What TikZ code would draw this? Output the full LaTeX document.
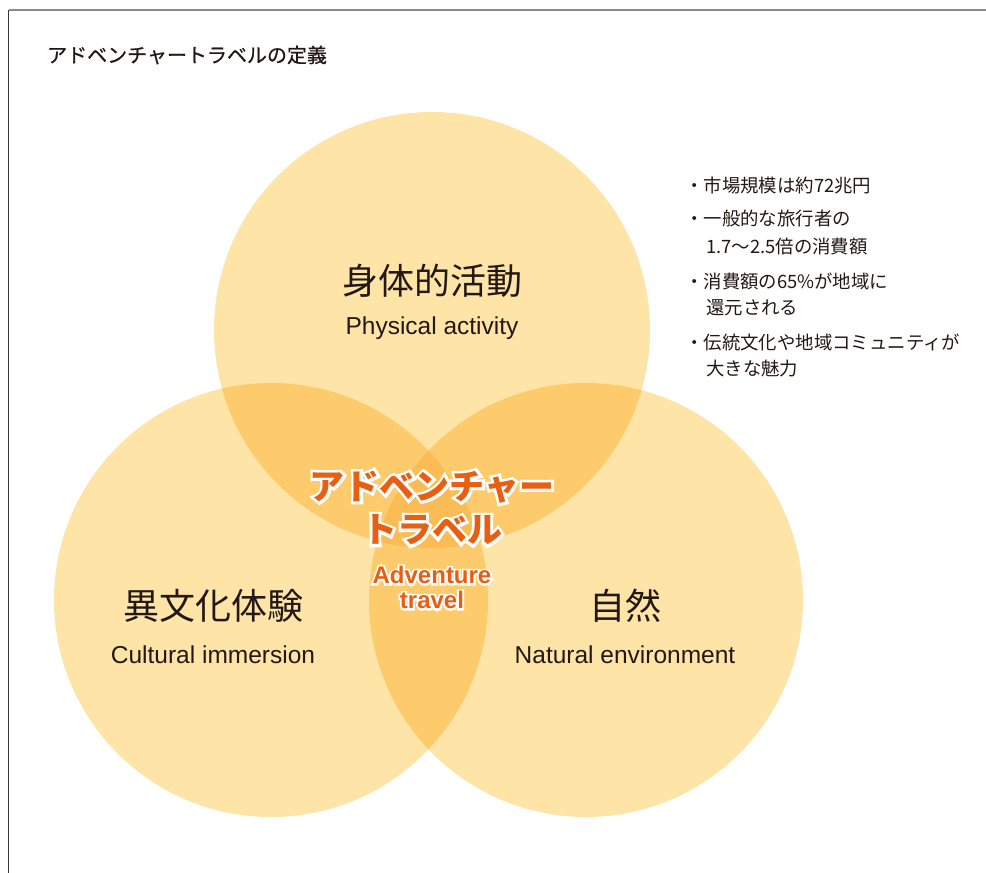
\documentclass[tikz,border=0pt]{standalone}
\usepackage{fontspec}
\setmainfont{Noto Sans CJK JP}
\newfontfamily\latinf{Liberation Sans}
\definecolor{txt}{HTML}{231815}
\definecolor{cone}{HTML}{FEE4A6}
\definecolor{ctwo}{HTML}{FDCB6C}
\definecolor{cthree}{HTML}{FBBC55}
\definecolor{orng}{HTML}{E65F12}
\definecolor{framegray}{HTML}{8A8A8A}
\definecolor{framedark}{HTML}{3E3232}
\newcommand{\halotext}[4]{% name, position, font, text
  \node[lbl, font={#3\addfontfeature{FakeBold=16}}, text=white] at (#2) {#4};
  \node[lbl, font=#3, text=orng] (#1) at (#2) {#4};}
\begin{document}
\begin{tikzpicture}[x=1pt,y=-1pt,
  lbl/.style={inner sep=0pt, text=txt},
  jtitle/.style={lbl, font=\fontsize{36}{40}\selectfont},
  etitle/.style={lbl, font=\latinf\fontsize{24.5}{28}\selectfont},
  bullet/.style={lbl, anchor=west, font=\fontsize{18.4}{21}\selectfont}]
\useasboundingbox (0,0) rectangle (986,873);
% frame
\coordinate (f1) at (8.5,873);
\coordinate (f2) at (8.5,9.5);
\coordinate (f3) at (986,9.5);
\draw[framedark, line width=1.5pt] (f1) -- (f2);
\draw[framegray, line width=2pt] (f2) -- (f3);
% circles
\coordinate (P) at (432,330);
\coordinate (C) at (271,600);
\coordinate (N) at (586,600);
\fill[cone] (P) circle (218pt);
\fill[cone] (C) circle (217pt);
\fill[cone] (N) circle (217pt);
\begin{scope}\clip (P) circle (218pt); \fill[ctwo] (C) circle (217pt);\end{scope}
\begin{scope}\clip (P) circle (218pt); \fill[ctwo] (N) circle (217pt);\end{scope}
\begin{scope}\clip (C) circle (217pt); \fill[ctwo] (N) circle (217pt);\end{scope}
\begin{scope}\clip (P) circle (218pt); \clip (C) circle (217pt); \fill[cthree] (N) circle (217pt);\end{scope}
% title
\node[lbl, anchor=west, font={\fontsize{20}{22}\selectfont\addfontfeature{FakeBold=0.7}}] (title) at (47,55) {アドベンチャートラベルの定義};
% circle labels
\node[jtitle] (pj) at (432,281) {身体的活動};
\node[etitle] (pe) at (432,328) {Physical activity};
\node[jtitle] (cj) at (213,606) {異文化体験};
\node[etitle] (ce) at (213,655) {Cultural immersion};
\node[jtitle] (nj) at (625,606) {自然};
\node[etitle] (ne) at (625,655) {Natural environment};
% center
\halotext{at1}{432,487}{\bfseries\fontsize{35}{38}\selectfont}{アドベンチャー}
\halotext{at2}{432,530}{\bfseries\fontsize{35}{38}\selectfont}{トラベル}
\halotext{at3}{432,575}{\latinf\bfseries\fontsize{24}{26}\selectfont}{Adventure}
\halotext{at4}{432,600}{\latinf\bfseries\fontsize{24}{26}\selectfont}{travel}
% bullets
\node[bullet] (b1) at (685,186) {・市場規模は約72兆円};
\node[bullet] (b2) at (685,218) {・一般的な旅行者の};
\node[bullet] (b2b) at (706,247) {1.7〜2.5倍の消費額};
\node[bullet] (b3) at (685,281) {・消費額の65\%が地域に};
\node[bullet] (b3b) at (706,308) {還元される};
\node[bullet] (b4) at (685,342) {・伝統文化や地域コミュニティが};
\node[bullet] (b4b) at (706,369) {大きな魅力};
\end{tikzpicture}
\end{document}
